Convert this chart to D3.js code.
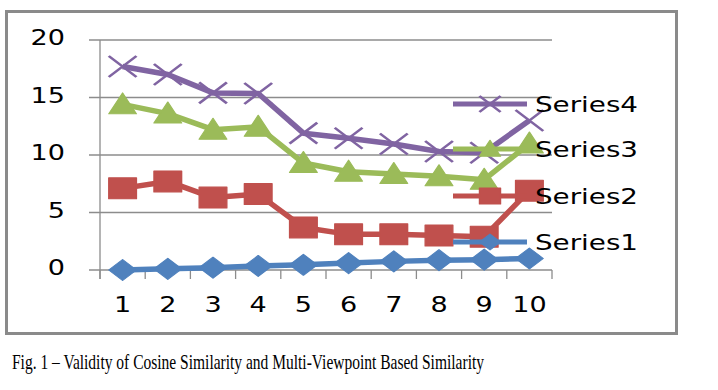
<!DOCTYPE html>
<html>
<head>
<meta charset="utf-8">
<script src="https://cdn.jsdelivr.net/npm/d3@7"></script>
<style>
  body { margin: 0; background: white; }
  svg { display: block; }
</style>
</head>
<body>
<div id="chart"></div>
<script>
var categories = [1, 2, 3, 4, 5, 6, 7, 8, 9, 10];
var seriesNames = ["Series1", "Series2", "Series3", "Series4"];
var series1 = [0, 0.1, 0.2, 0.35, 0.45, 0.6, 0.75, 0.85, 0.9, 1.0];
var series2 = [7.1, 7.7, 6.3, 6.6, 3.7, 3.1, 3.1, 3.0, 2.9, 6.9];
var series3 = [14.4, 13.6, 12.2, 12.45, 9.3, 8.55, 8.35, 8.15, 7.85, 11.0];
var series4 = [17.7, 17.0, 15.4, 15.35, 11.9, 11.45, 10.95, 10.3, 10.2, 13.0];
var yTicks = [0, 5, 10, 15, 20];
var caption = "Fig. 1 \u2013 Validity of Cosine Similarity and Multi-Viewpoint Based Similarity";

var colors = ["#4F81BD", "#C0504D", "#9BBB59", "#8064A2"];
var markerTypes = ["diamond", "square", "triangle", "x"];
var allSeries = [series1, series2, series3, series4];

var width = 718, height = 390;
var stretch = 1.32; // the original picture is squashed wide

var svg = d3.select("#chart").append("svg")
  .attr("width", width).attr("height", height);

// outer frame of the chart object
svg.append("rect")
  .attr("x", 6.5).attr("y", 11.5)
  .attr("width", 670).attr("height", 322)
  .attr("fill", "white")
  .attr("stroke", "#8a8a8a").attr("stroke-width", 3);

var x = d3.scaleBand().domain(categories).range([100, 552]).padding(0);
var y = d3.scaleLinear().domain([0, 20]).range([270, 40]);
function cx(c) { return x(c) + x.bandwidth() / 2; }

// gridlines + y ticks
svg.append("g").selectAll("line")
  .data(yTicks).enter().append("line")
  .attr("x1", 89).attr("x2", 552)
  .attr("y1", d => y(d)).attr("y2", d => y(d))
  .attr("stroke", "#8c8c8c").attr("stroke-width", 1.3);

// y axis line
svg.append("line")
  .attr("x1", 100).attr("x2", 100).attr("y1", y(20)).attr("y2", 279)
  .attr("stroke", "#8c8c8c").attr("stroke-width", 1.3);

// x axis ticks at category boundaries
var bounds = categories.map(c => x(c)).concat([x.range()[1]]);
svg.append("g").selectAll("line")
  .data(bounds).enter().append("line")
  .attr("x1", d => d).attr("x2", d => d)
  .attr("y1", y(0)).attr("y2", 279)
  .attr("stroke", "#8c8c8c").attr("stroke-width", 1.3);

var labelFont = "'DejaVu Sans', Verdana, sans-serif";

svg.append("g").selectAll("text")
  .data(yTicks).enter().append("text")
  .attr("transform", d => "translate(65," + (y(d) + 5) + ") scale(" + stretch + ",1)")
  .attr("text-anchor", "end")
  .attr("font-family", labelFont).attr("font-size", 20.5)
  .attr("fill", "#000")
  .text(d => d);

svg.append("g").selectAll("text")
  .data(categories).enter().append("text")
  .attr("transform", d => "translate(" + cx(d) + ",312) scale(" + stretch + ",1)")
  .attr("text-anchor", "middle")
  .attr("font-family", labelFont).attr("font-size", 20.5)
  .attr("fill", "#000")
  .text(d => d);

function markerPath(type, s) {
  // s = half height
  if (type === "diamond") return "M0," + (-s) + "L" + s + ",0L0," + s + "L" + (-s) + ",0Z";
  if (type === "square") return "M" + (-s) + "," + (-s) + "H" + s + "V" + s + "H" + (-s) + "Z";
  if (type === "triangle") return "M0," + (-s * 1.1) + "L" + s + "," + (s * 0.9) + "H" + (-s) + "Z";
  return "M" + (-s) + "," + (-s) + "L" + s + "," + s + "M" + (-s) + "," + s + "L" + s + "," + (-s);
}

function drawMarker(g, type, color, px, py, s) {
  var p = g.append("path")
    .attr("transform", "translate(" + px + "," + py + ") scale(" + stretch + ",1)")
    .attr("d", markerPath(type, s));
  if (type === "x") {
    p.attr("fill", "none").attr("stroke", color).attr("stroke-width", 2.2);
  } else {
    p.attr("fill", color).attr("stroke", color).attr("stroke-width", 1).attr("stroke-linejoin", "round");
  }
}

var line = d3.line().x((d, i) => cx(categories[i])).y(d => y(d));

allSeries.forEach(function (vals, si) {
  var g = svg.append("g");
  g.append("path")
    .attr("d", line(vals))
    .attr("fill", "none")
    .attr("stroke", colors[si]).attr("stroke-width", 5.5)
    .attr("stroke-linejoin", "round");
  vals.forEach(function (v, i) {
    drawMarker(g, markerTypes[si], colors[si], cx(categories[i]), y(v), 10.5);
  });
});

// legend, drawn on top of the plot
var legendY = [242, 196, 149, 104];
var legend = svg.append("g");
seriesNames.forEach(function (name, si) {
  var ly = legendY[si];
  legend.append("line")
    .attr("x1", 453).attr("x2", 527).attr("y1", ly).attr("y2", ly)
    .attr("stroke", colors[si]).attr("stroke-width", 5);
  drawMarker(legend, markerTypes[si], colors[si], 490, ly, 8);
  legend.append("text")
    .attr("x", 535).attr("y", ly + 8)
    .attr("font-family", labelFont).attr("font-size", 22)
    .attr("textLength", 103).attr("lengthAdjust", "spacingAndGlyphs")
    .attr("fill", "#000")
    .text(name);
});

svg.append("text")
  .attr("x", 12).attr("y", 369)
  .attr("font-family", "'Liberation Serif', 'Times New Roman', serif")
  .attr("font-size", 21)
  .attr("textLength", 472).attr("lengthAdjust", "spacingAndGlyphs")
  .attr("fill", "#000")
  .text(caption);
</script>
</body>
</html>
